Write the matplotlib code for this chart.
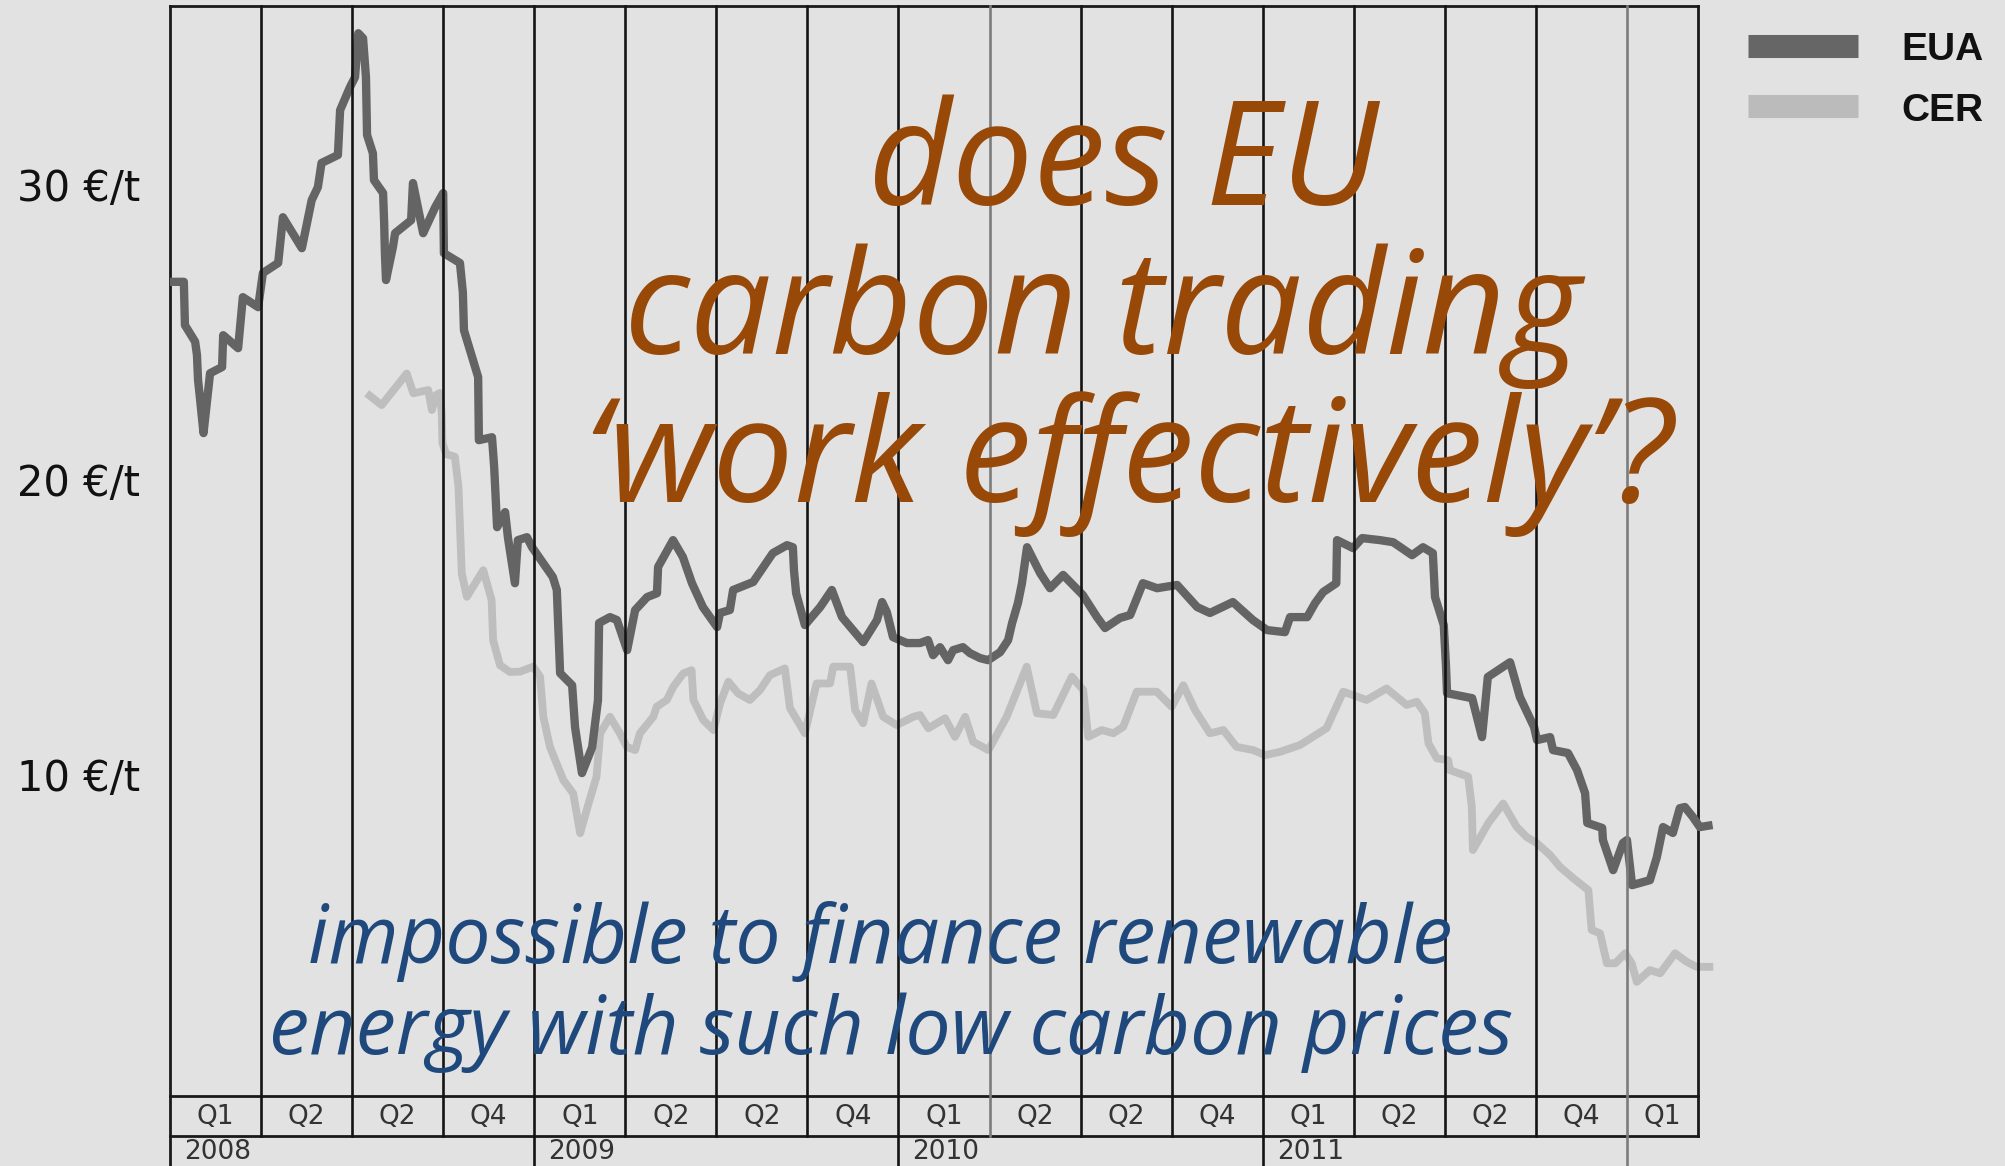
import matplotlib
matplotlib.use("Agg")
import matplotlib.pyplot as plt
import matplotlib.transforms as mtransforms
from matplotlib.lines import Line2D

# EUA price (EUR/t), time in decimal years
eua_t = [2008.000, 2008.038, 2008.041, 2008.069, 2008.074, 2008.077, 2008.082, 2008.092, 2008.101, 2008.110,
         2008.143, 2008.146, 2008.187, 2008.200, 2008.242, 2008.255, 2008.297, 2008.310, 2008.362, 2008.389,
         2008.406, 2008.416, 2008.461, 2008.467, 2008.494, 2008.508, 2008.517, 2008.530, 2008.538, 2008.541,
         2008.557, 2008.560, 2008.585, 2008.588, 2008.590, 2008.593, 2008.612, 2008.618, 2008.662, 2008.667,
         2008.695, 2008.728, 2008.750, 2008.752, 2008.796, 2008.804, 2008.807, 2008.846, 2008.848, 2008.884,
         2008.890, 2008.898, 2008.920, 2008.928, 2008.947, 2008.955, 2008.980, 2008.994, 2009.051, 2009.062,
         2009.071, 2009.104, 2009.112, 2009.131, 2009.159, 2009.175, 2009.178, 2009.208, 2009.227, 2009.255,
         2009.277, 2009.310, 2009.337, 2009.340, 2009.381, 2009.408, 2009.433, 2009.463, 2009.502, 2009.510,
         2009.537, 2009.546, 2009.601, 2009.655, 2009.694, 2009.710, 2009.713, 2009.719, 2009.743, 2009.785,
         2009.817, 2009.845, 2009.903, 2009.941, 2009.955, 2009.968, 2009.985, 2010.023, 2010.059, 2010.081,
         2010.095, 2010.114, 2010.136, 2010.150, 2010.177, 2010.196, 2010.224, 2010.246, 2010.279, 2010.301,
         2010.312, 2010.328, 2010.339, 2010.353, 2010.389, 2010.416, 2010.452, 2010.506, 2010.545, 2010.567,
         2010.608, 2010.636, 2010.671, 2010.710, 2010.765, 2010.820, 2010.855, 2010.918, 2010.973, 2011.012,
         2011.061, 2011.075, 2011.122, 2011.144, 2011.166, 2011.202, 2011.204, 2011.248, 2011.273, 2011.322,
         2011.358, 2011.410, 2011.440, 2011.467, 2011.473, 2011.497, 2011.500, 2011.503, 2011.506, 2011.575,
         2011.602, 2011.618, 2011.679, 2011.706, 2011.745, 2011.753, 2011.789, 2011.797, 2011.838, 2011.863,
         2011.885, 2011.891, 2011.932, 2011.934, 2011.962, 2011.989, 2012.000, 2012.014, 2012.063, 2012.082,
         2012.099, 2012.126, 2012.145, 2012.159, 2012.181, 2012.200, 2012.235]
eua_price = [26.70, 26.70, 25.23, 24.67, 24.22, 23.37, 22.79, 21.57, 22.59, 23.60,
             23.81, 24.89, 24.45, 26.18, 25.84, 27.00, 27.34, 28.89, 27.84, 29.47,
             29.91, 30.73, 31.00, 32.52, 33.30, 33.64, 35.13, 34.96, 33.64, 31.68,
             31.06, 30.15, 29.71, 28.69, 27.67, 26.76, 27.88, 28.35, 28.79, 30.05,
             28.35, 29.23, 29.71, 27.67, 27.34, 26.35, 25.06, 23.47, 21.33, 21.43,
             20.42, 18.38, 18.89, 18.01, 16.48, 17.94, 18.04, 17.70, 16.69, 16.25,
             13.43, 13.02, 11.60, 10.04, 10.92, 12.52, 15.13, 15.33, 15.23, 14.21,
             15.57, 16.01, 16.14, 17.03, 17.94, 17.37, 16.48, 15.67, 14.99, 15.47,
             15.57, 16.25, 16.52, 17.50, 17.77, 17.70, 16.92, 16.14, 15.06, 15.67,
             16.25, 15.33, 14.48, 15.23, 15.84, 15.50, 14.65, 14.45, 14.45, 14.55,
             14.04, 14.31, 13.87, 14.21, 14.31, 14.11, 13.94, 13.87, 14.14, 14.55,
             15.13, 15.81, 16.48, 17.70, 16.82, 16.31, 16.76, 16.08, 15.33, 14.96,
             15.30, 15.40, 16.48, 16.31, 16.42, 15.67, 15.47, 15.84, 15.23, 14.89,
             14.82, 15.33, 15.33, 15.81, 16.18, 16.48, 17.94, 17.67, 18.01, 17.94,
             17.87, 17.43, 17.70, 17.50, 16.01, 15.06, 14.38, 13.70, 12.75, 12.58,
             11.26, 13.30, 13.80, 12.62, 11.60, 11.16, 11.26, 10.82, 10.72, 10.14,
             9.36, 8.35, 8.18, 7.77, 6.75, 7.67, 7.77, 6.24, 6.41, 7.19,
             8.21, 8.01, 8.85, 8.89, 8.55, 8.21, 8.28]

# CER price (EUR/t)
cer_t = [2008.540, 2008.581, 2008.650, 2008.668, 2008.709, 2008.719, 2008.730, 2008.741, 2008.746, 2008.748,
         2008.758, 2008.782, 2008.792, 2008.801, 2008.815, 2008.860, 2008.883, 2008.887, 2008.906, 2008.933,
         2008.961, 2008.997, 2009.016, 2009.025, 2009.043, 2009.080, 2009.107, 2009.126, 2009.144, 2009.171,
         2009.181, 2009.208, 2009.235, 2009.254, 2009.277, 2009.290, 2009.327, 2009.336, 2009.364, 2009.382,
         2009.409, 2009.432, 2009.437, 2009.464, 2009.492, 2009.510, 2009.533, 2009.560, 2009.592, 2009.620,
         2009.647, 2009.688, 2009.702, 2009.743, 2009.775, 2009.812, 2009.821, 2009.867, 2009.881, 2009.903,
         2009.926, 2009.958, 2009.995, 2010.041, 2010.059, 2010.082, 2010.128, 2010.155, 2010.183, 2010.205,
         2010.247, 2010.297, 2010.352, 2010.380, 2010.425, 2010.476, 2010.507, 2010.521, 2010.558, 2010.590,
         2010.617, 2010.654, 2010.709, 2010.750, 2010.782, 2010.814, 2010.855, 2010.892, 2010.928, 2010.974,
         2011.006, 2011.047, 2011.102, 2011.175, 2011.221, 2011.285, 2011.340, 2011.395, 2011.423, 2011.445,
         2011.455, 2011.478, 2011.509, 2011.514, 2011.564, 2011.574, 2011.577, 2011.619, 2011.660, 2011.697,
         2011.724, 2011.752, 2011.789, 2011.816, 2011.853, 2011.894, 2011.903, 2011.926, 2011.945, 2011.968,
         2011.995, 2012.013, 2012.027, 2012.063, 2012.091, 2012.132, 2012.164, 2012.191, 2012.237]
cer_price = [22.92, 22.52, 23.59, 22.92, 23.03, 22.35, 22.86, 22.93, 22.24, 21.23,
             20.86, 20.77, 19.75, 16.81, 16.02, 16.92, 15.91, 14.55, 13.70, 13.47,
             13.48, 13.65, 13.31, 11.95, 10.93, 9.80, 9.35, 8.00, 8.79, 9.92,
             11.39, 11.95, 11.39, 10.93, 10.82, 11.39, 11.95, 12.29, 12.52, 12.97,
             13.42, 13.53, 12.52, 11.84, 11.50, 12.40, 13.14, 12.74, 12.52, 12.86,
             13.36, 13.59, 12.25, 11.39, 13.08, 13.08, 13.65, 13.65, 12.18, 11.73,
             13.08, 11.95, 11.67, 11.95, 12.01, 11.56, 11.90, 11.27, 11.95, 11.10,
             10.82, 11.95, 13.65, 12.07, 12.01, 13.31, 12.86, 11.27, 11.50, 11.39,
             11.61, 12.80, 12.80, 12.29, 13.02, 12.18, 11.39, 11.50, 10.93, 10.82,
             10.65, 10.76, 10.99, 11.56, 12.80, 12.52, 12.91, 12.35, 12.46, 12.07,
             11.05, 10.54, 10.48, 10.14, 9.92, 8.90, 7.43, 8.34, 9.01, 8.22,
             7.88, 7.67, 7.26, 6.86, 6.47, 6.07, 4.72, 4.61, 3.59, 3.59,
             3.93, 3.59, 2.96, 3.36, 3.25, 3.93, 3.64, 3.47, 3.47]

quarter_labels = ["Q1", "Q2", "Q2", "Q4"] * 4 + ["Q1"]
years = [2008, 2009, 2010, 2011]
ytick_vals = [10, 20, 30]
ytick_labels = ["10 €/t", "20 €/t", "30 €/t"]

W, H = 2006, 1166
bg = "#e2e2e2"
fig = plt.figure(figsize=(W / 100, H / 100), dpi=100, facecolor=bg)
ax = fig.add_axes([170 / W, 1 - 1096 / H, 1528 / W, 1089.6 / H])
ax.set_facecolor(bg)

ax.plot(cer_t, cer_price, color="#bebebe", lw=5.6, solid_joinstyle="round",
        solid_capstyle="butt", clip_on=False, zorder=2)
ax.plot(eua_t, eua_price, color="#646464", lw=6.0, solid_joinstyle="round",
        solid_capstyle="butt", clip_on=False, zorder=3)

x_end = 2012.195
ax.set_xlim(2008.0, x_end)
ax.set_ylim(-0.91, 36.04)
ax.set_xticks([])
ax.set_yticks(ytick_vals, ytick_labels)
ax.tick_params(axis="y", length=0, pad=110.5, labelsize=30, labelcolor="#111111")
for lab in ax.get_yticklabels():
    lab.set_horizontalalignment("left")
for sp in ax.spines.values():
    sp.set_linewidth(2.0)
    sp.set_color("#1a1a1a")

# quarter grid and the label table under the plot
trans = mtransforms.blended_transform_factory(ax.transData, ax.transAxes)
row_bot = -0.0367
fig_bot = -0.0643
for k in range(1, 17):
    xq = 2008 + 0.25 * k
    y0 = fig_bot if k % 4 == 0 else row_bot
    col = "#7c7c7c" if k in (9, 16) else "#141414"
    ax.plot([xq, xq], [y0, 1], transform=trans, color=col, lw=1.9, clip_on=False, zorder=4)
ax.plot([2008.0, 2008.0], [fig_bot, 0], transform=trans, color="#1a1a1a", lw=2.0, clip_on=False)
ax.plot([x_end, x_end], [row_bot, 0], transform=trans, color="#1a1a1a", lw=2.0, clip_on=False)
ax.plot([2008.0, x_end], [row_bot, row_bot], transform=trans, color="#1a1a1a", lw=2.0, clip_on=False)

edges = [2008 + 0.25 * k for k in range(17)] + [x_end]
for i, lab in enumerate(quarter_labels):
    xc = (edges[i] + edges[i + 1]) / 2
    ax.text(xc, -0.0193, lab, transform=trans, ha="center", va="center",
            fontsize=19, color="#333333", clip_on=False)
off = mtransforms.offset_copy(trans, fig=fig, x=14, y=0, units="dots")
for yr in years:
    ax.text(yr, -0.0395, str(yr), transform=off, ha="left", va="top",
            fontsize=19, color="#333333", clip_on=False)

# legend
for name, col, yb in [("EUA", "#666666", 45.5), ("CER", "#bbbbbb", 106)]:
    fig.add_artist(Line2D([1748 / W, 1858 / W], [1 - yb / H] * 2, color=col,
                          lw=16.6, solid_capstyle="butt"))
    fig.text(1901 / W, 1 - (yb + 15) / H, name, ha="left", va="baseline",
             fontsize=28, weight="bold", family="Liberation Sans", color="#111111")


def fit_lines(lines, centers, baselines, total_w, **kw):
    texts = [fig.text(cx / W, 1 - by / H, s, ha="center", va="baseline", fontsize=100, **kw)
             for s, cx, by in zip(lines, centers, baselines)]
    r = fig.canvas.get_renderer()
    w = sum(t.get_window_extent(r).width for t in texts)
    for t in texts:
        t.set_fontsize(100 * total_w / w)


fit_lines(["does EU", "carbon trading", "\u2018work effectively\u2019?"],
          [1123, 1103, 1128], [205, 354, 502], 500 + 925 + 1131,
          family="Open Sans", style="italic", color="#984807")
fit_lines(["impossible to finance renewable", "energy with such low carbon prices"],
          [880, 891], [963, 1054], 1143 + 1245,
          family="Open Sans", style="italic", color="#1f497d")

fig.savefig("out.png", dpi=100, facecolor=bg)
